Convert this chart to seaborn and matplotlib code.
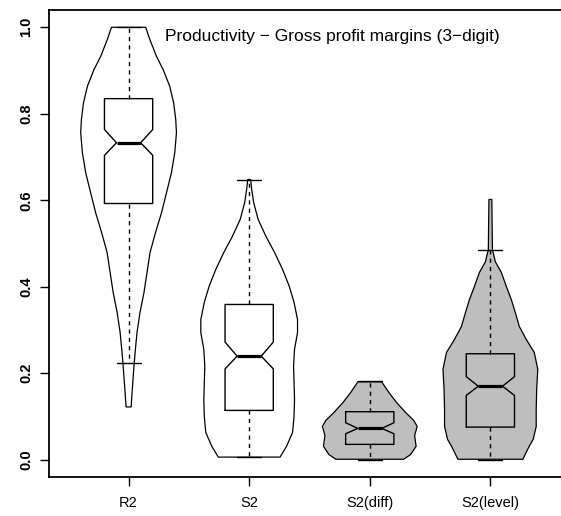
import numpy as np
import matplotlib
matplotlib.use("Agg")
import matplotlib.pyplot as plt
import seaborn as sns

# categories and fills
categories = ["R2", "S2", "S2(diff)", "S2(level)"]
fill_colors = ["white", "white", "#BEBEBE", "#BEBEBE"]

# violin outlines: y level and half width (x units)
r2_y = [1.000, 0.972, 0.933, 0.902, 0.864, 0.825, 0.787, 0.756, 0.710, 0.663,
        0.617, 0.571, 0.525, 0.479, 0.433, 0.387, 0.341, 0.294, 0.248, 0.202,
        0.156, 0.122]
r2_w = [0.142, 0.176, 0.231, 0.287, 0.341, 0.374, 0.391, 0.397, 0.383, 0.355,
        0.314, 0.273, 0.223, 0.178, 0.153, 0.128, 0.095, 0.070, 0.054, 0.041,
        0.029, 0.021]

s2_y = [0.648, 0.625, 0.595, 0.556, 0.516, 0.479, 0.440, 0.402, 0.364, 0.324,
        0.294, 0.255, 0.216, 0.179, 0.140, 0.100, 0.063, 0.031, 0.006]
s2_w = [0.012, 0.021, 0.037, 0.074, 0.140, 0.211, 0.277, 0.331, 0.372, 0.401,
        0.401, 0.376, 0.368, 0.372, 0.376, 0.372, 0.360, 0.310, 0.256]

s2diff_y = [0.180, 0.156, 0.132, 0.109, 0.091, 0.077, 0.056, 0.031, 0.012, 0.001]
s2diff_w = [0.099, 0.157, 0.223, 0.298, 0.364, 0.393, 0.372, 0.384, 0.339, 0.281]

s2lev_y = [0.602, 0.486, 0.458, 0.433, 0.401, 0.370, 0.340, 0.308, 0.278, 0.248,
           0.209, 0.163, 0.116, 0.077, 0.047, 0.031, 0.001]
s2lev_w = [0.012, 0.017, 0.041, 0.091, 0.132, 0.174, 0.207, 0.240, 0.298, 0.364,
           0.393, 0.384, 0.380, 0.380, 0.355, 0.322, 0.269]

violin_y = [r2_y, s2_y, s2diff_y, s2lev_y]
violin_w = [r2_w, s2_w, s2diff_w, s2lev_w]

# notched box summaries
q1 = [0.5925, 0.114, 0.0354, 0.0754]
med = [0.733, 0.2395, 0.0724, 0.170]
q3 = [0.835, 0.359, 0.111, 0.245]
whislo = [0.224, 0.006, 0.0, 0.0]
whishi = [1.0, 0.648, 0.182, 0.486]
cilo = [0.704, 0.210, 0.060, 0.1486]
cihi = [0.7635, 0.272, 0.0855, 0.192]

title = "Productivity \u2212 Gross profit margins (3\u2212digit)"

sns.set_theme(style="ticks")
plt.rcParams["font.family"] = ["Liberation Sans", "DejaVu Sans"]

fig = plt.figure(figsize=(5.61, 5.16), dpi=100)
ax = fig.add_axes([0.0873, 0.0756, 0.9287, 0.905])

positions = np.arange(1, len(categories) + 1)

for pos, ys, ws, fc in zip(positions, violin_y, violin_w, fill_colors):
    ys = np.asarray(ys)
    ws = np.asarray(ws)
    xs = np.concatenate([pos - ws, (pos + ws)[::-1]])
    yy = np.concatenate([ys, ys[::-1]])
    ax.fill(xs, yy, facecolor=fc, edgecolor="black", linewidth=0.9, zorder=1)

stats = []
for i in range(len(categories)):
    stats.append(dict(q1=q1[i], med=med[i], q3=q3[i], whislo=whislo[i],
                      whishi=whishi[i], cilo=cilo[i], cihi=cihi[i], fliers=[]))

ax.bxp(stats, positions=positions, widths=0.4, capwidths=0.2, shownotches=True,
       showfliers=False, manage_ticks=False,
       boxprops=dict(color="black", linewidth=1.0),
       medianprops=dict(color="black", linewidth=2.3, solid_capstyle="butt"),
       whiskerprops=dict(color="black", linewidth=1.0, linestyle=(0, (3, 3))),
       capprops=dict(color="black", linewidth=1.0))

ax.set_xlim(0.34, 4.66)
ax.set_ylim(-0.04, 1.04)
ax.set_xticks(positions)
ax.set_xticklabels(categories, fontsize=10.5)
ax.set_yticks([0.0, 0.2, 0.4, 0.6, 0.8, 1.0])
ax.set_yticklabels(["0.0", "0.2", "0.4", "0.6", "0.8", "1.0"],
                   rotation=90, va="center", fontsize=10.5, fontweight="bold")
ax.tick_params(axis="both", direction="out", length=6.5, width=1.0,
               color="black", labelcolor="black")
ax.tick_params(axis="x", pad=7)
ax.tick_params(axis="y", pad=5)
for sp in ax.spines.values():
    sp.set_color("black")
    sp.set_linewidth(1.3)
ax.spines["right"].set_visible(False)

ax.text(0.2227, 0.9428, title, transform=ax.transAxes, ha="left",
        va="center", fontsize=12.5, color="black")

fig.savefig("out.png", dpi=100)
